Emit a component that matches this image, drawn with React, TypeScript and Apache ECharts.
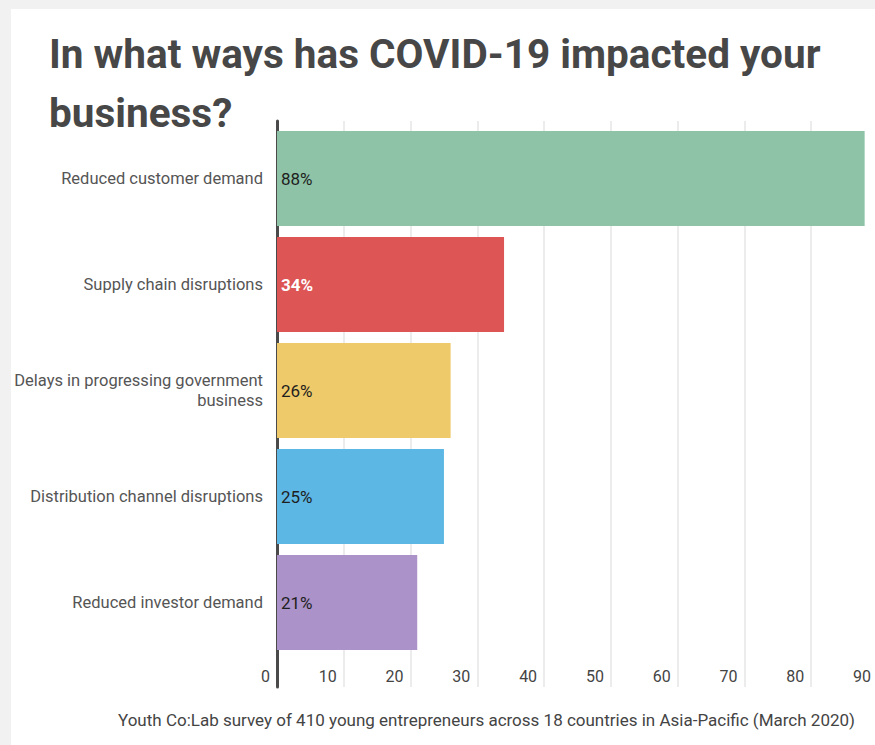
import React, { useEffect, useRef } from "react";
import * as echarts from "echarts";

const TITLE = "In what ways has COVID-19 impacted your\nbusiness?";
const SOURCE =
  "Youth Co:Lab survey of 410 young entrepreneurs across 18 countries in Asia-Pacific (March 2020)";
const categories = [
  "Reduced customer demand",
  "Supply chain disruptions",
  "Delays in progressing government\nbusiness",
  "Distribution channel disruptions",
  "Reduced investor demand",
];
const values = [88, 34, 26, 25, 21];
const barColors = ["#8ec3a7", "#dd5555", "#efca6a", "#5db7e5", "#ab92c8"];
const labelColors = ["#1e1e1e", "#ffffff", "#1e1e1e", "#1e1e1e", "#1e1e1e"];
const labelWeights = ["normal", "bold", "normal", "normal", "normal"];
const X_MIN = 0;
const X_MAX = 90;
const X_STEP = 10;

export default function App() {
  const ref = useRef<HTMLDivElement>(null);
  useEffect(() => {
    if (!ref.current) return;
    const chart = echarts.init(ref.current, null, { renderer: "svg" });
    const font = "Roboto, 'Noto Sans', sans-serif";
    chart.setOption({
      animation: false,
      backgroundColor: "#ffffff",
      textStyle: { fontFamily: font },
      title: [
        {
          text: TITLE,
          left: 33,
          top: 10,
          textStyle: {
            fontFamily: font,
            fontSize: 40.5,
            fontWeight: "bold",
            color: "#474747",
            lineHeight: 59,
          },
        },
        {
          text: SOURCE,
          left: 102,
          top: 697,
          textStyle: {
            fontFamily: font,
            fontSize: 17,
            fontWeight: "normal",
            color: "#444444",
          },
        },
      ],
      grid: [
        {
          left: 266,
          width: 601,
          top: 116.5,
          height: 530,
          containLabel: false,
          outerBoundsMode: "none",
        },
        {
          left: 266,
          width: 601,
          top: 112,
          height: 566,
          containLabel: false,
          outerBoundsMode: "none",
        },
      ],
      xAxis: [
        {
          gridIndex: 0,
          type: "value",
          min: X_MIN,
          max: X_MAX,
          interval: X_STEP,
          show: false,
        },
        {
          gridIndex: 1,
          type: "value",
          min: X_MIN,
          max: X_MAX,
          interval: X_STEP,
          axisLine: { show: false },
          axisTick: { show: false },
          splitLine: { show: true, lineStyle: { color: "#e6e6e6", width: 1.5 } },
          axisLabel: {
            inside: true,
            align: "right",
            margin: 3,
            padding: [0, 7, 0, 0],
            fontSize: 16,
            lineHeight: 16,
            color: "#444444",
            showMinLabel: true,
            showMaxLabel: true,
          },
        },
      ],
      yAxis: [
        {
          gridIndex: 0,
          type: "category",
          inverse: true,
          data: categories,
          axisLine: { show: false },
          axisTick: { show: false },
          splitLine: { show: false },
          axisLabel: {
            margin: 14,
            fontSize: 16.5,
            lineHeight: 20,
            color: "#555555",
            align: "right",
          },
        },
        {
          gridIndex: 1,
          type: "value",
          min: 0,
          max: 1,
          axisLabel: { show: false },
          axisTick: { show: false },
          splitLine: { show: false },
          axisLine: { show: true, lineStyle: { color: "#4a4a4a", width: 3 } },
        },
      ],
      series: [
        {
          type: "bar",
          xAxisIndex: 0,
          yAxisIndex: 0,
          barWidth: 95,
          data: values.map((v, i) => ({
            value: v,
            itemStyle: { color: barColors[i] },
            label: { color: labelColors[i], fontWeight: labelWeights[i] },
          })),
          label: {
            show: true,
            position: "insideLeft",
            distance: 4,
            formatter: "{c}%",
            fontSize: 17,
          },
        },
      ],
    });
    return () => chart.dispose();
  }, []);
  return (
    <div
      style={{
        position: "fixed",
        left: 0,
        top: 0,
        width: 875,
        height: 745,
        background: "#f1f1f1",
      }}
    >
      <div
        ref={ref}
        style={{ position: "absolute", left: 11, top: 9, width: 864, height: 736 }}
      />
    </div>
  );
}
